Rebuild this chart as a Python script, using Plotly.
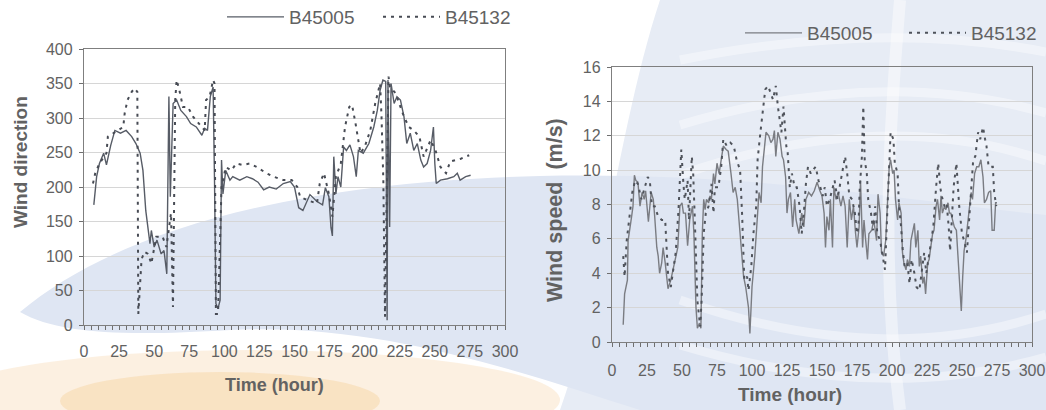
import plotly.graph_objects as go

W, H = 1046, 410

# ---------------- data: wind direction (left) ----------------
dir_b45005_t = [7, 9, 11, 14, 16, 19, 22, 26, 30, 34, 37, 40, 42, 44, 47, 48, 50, 52, 55, 57, 59,
                60.5, 61.5, 62.5, 63.5, 66, 69, 73, 76, 80, 84, 86, 88, 90, 92, 93, 94, 95.5, 97, 98,
                99, 101, 104, 106, 111, 116, 120, 124, 128, 132, 137, 142, 147, 150, 153, 156, 161,
                166, 170, 172, 174.5, 176, 177, 178, 179.5, 181, 183, 185, 187, 189.5, 192, 194,
                195.5, 199, 203, 206.5, 209, 211, 213, 215, 216, 216.6, 217.8, 218.8, 221, 223,
                225.5, 228, 230, 232.5, 235, 237.5, 240, 242, 244.5, 247, 249, 250, 251, 254, 259,
                263.5, 266, 268, 272, 275.5]
dir_b45005_v = [174, 215, 234, 249, 232, 260, 282, 278, 282, 273, 263, 249, 224, 166, 118, 137, 113,
                123, 103, 108, 74, 331, 186, 258, 321, 326, 311, 302, 292, 287, 275, 285, 282, 331,
                345, 210, 31, 24, 36, 239, 190, 224, 210, 215, 210, 215, 212, 207, 196, 200, 197,
                205, 208, 200, 170, 166, 189, 179, 174, 199, 186, 141, 129, 244, 190, 215, 200, 258,
                253, 261, 244, 215, 253, 249, 263, 287, 311, 340, 355, 353, 7, 355, 142, 350, 321,
                331, 326, 302, 263, 278, 253, 263, 239, 229, 234, 253, 287, 234, 205, 210, 212, 215,
                220, 210, 215, 217]

dir_b45132_t = [6.4, 8, 11, 16, 17, 20.7, 24, 28, 29, 31, 34, 36, 38, 38.7, 41, 43, 45.6, 48, 51.5,
                56, 58.7, 61, 62, 63.4, 64.6, 65, 66, 68, 70.5, 74, 77.7, 82, 86, 87, 89.5, 92, 93,
                94, 95.5, 98, 101, 105, 108.5, 113, 118, 123, 130, 135, 142, 148, 152, 154, 159, 166,
                168, 171, 174.5, 177, 179.5, 183, 186, 189, 191, 193.5, 197, 200, 204, 207.5, 211,
                212, 213.3, 214.5, 217, 218, 222, 225.5, 228, 231.5, 235, 239, 242, 247, 250.5, 254,
                258, 261, 265, 268.5, 272, 274.5]
dir_b45132_v = [205, 220, 234, 249, 273, 278, 282, 287, 307, 326, 338, 343, 338, 16, 95, 106, 103, 89,
                128, 128, 113, 147, 162, 26, 195, 326, 355, 340, 316, 316, 302, 292, 282, 326, 331,
                355, 350, 16, 16, 200, 229, 224, 234, 232, 234, 229, 220, 215, 210, 210, 200, 186,
                181, 176, 205, 220, 190, 157, 215, 234, 287, 316, 319, 292, 249, 258, 282, 321, 350,
                302, 210, 12, 360, 345, 336, 316, 302, 287, 282, 273, 244, 268, 253, 229, 220, 237,
                239, 241, 244, 246]

# ---------------- data: wind speed (right) ----------------
spd_b45005_t = [8, 9, 11, 11.5, 14, 15, 16, 17, 18.5, 20, 21.5, 23, 24, 26, 28, 29.5, 30.5, 32, 33,
                34, 35.5, 36.5, 38, 40, 42, 43.5, 45, 47, 48.5, 50, 51, 52.5, 54, 55.5, 57.5, 58.5,
                60, 61, 62.5, 63.5, 64.5, 65.5, 66.5, 67.5, 69, 70, 71, 72.5, 73.5, 75, 76.5, 78,
                79.5, 81.5, 83, 85, 86.5, 88, 89.5, 91.5, 94, 95.5, 97.5, 98.5, 100, 102, 103.5,
                105, 106.5, 107.5, 109, 110, 112, 113.5, 115, 116, 117, 118.5, 120, 121.5, 122.5,
                124, 125, 126, 127.5, 129, 130.5, 131.5, 133.5, 135.5, 137, 138.5, 140.5, 142.5,
                144.5, 146.5, 148.5, 150, 151.5, 152.5, 153.5, 155, 156, 157.5, 158.5, 160, 161.5,
                163.5, 165, 166.5, 168, 169.5, 171, 172.5, 174, 175, 176.5, 177.5, 179, 180, 181,
                182.5, 183.5, 185.5, 187, 189, 190, 191.5, 192.5, 194, 195.5, 197, 198, 199, 200.5,
                201.5, 202.5, 204, 205, 206.5, 207.5, 208.5, 210, 211, 212.5, 213.5, 214.5, 216,
                217, 218.5, 219.5, 220.5, 222, 223, 224, 225.5, 226.5, 228, 229, 230, 231.5, 232.5,
                234, 235, 236, 237.5, 238.5, 240, 241, 242, 243.5, 244.5, 246, 247, 248, 249.5,
                250.5, 251.5, 253, 254, 255.5, 256.5, 257.5, 259, 260.5, 262, 263.5, 265, 266, 267.5,
                269, 270.5, 271.5, 273, 274, 275]
spd_b45005_v = [1.0, 2.8, 3.6, 5.9, 7.3, 7.9, 9.7, 9.4, 9.3, 7.9, 8.7, 8.3, 8.8, 7.0, 8.7, 8.3, 7.3,
                5.5, 5.0, 4.0, 4.6, 5.5, 4.6, 3.1, 3.6, 4.2, 4.8, 5.5, 7.9, 8.1, 7.5, 7.5, 5.6, 7.1,
                7.9, 6.3, 2.0, 0.8, 1.1, 0.8, 6.3, 8.3, 7.7, 8.3, 8.1, 8.5, 8.3, 9.8, 9.2, 10.4, 9.8,
                10.6, 11.4, 11.2, 11.1, 9.8, 8.7, 9.0, 8.3, 6.3, 3.8, 3.2, 2.0, 0.5, 3.2, 5.0, 7.1,
                8.7, 8.1, 10.2, 11.4, 12.2, 12.0, 11.6, 11.8, 12.3, 10.8, 12.2, 11.8, 10.8, 10.6,
                9.6, 7.5, 8.3, 8.7, 6.7, 8.3, 7.1, 6.3, 7.5, 6.7, 8.3, 8.7, 8.5, 8.8, 9.3, 8.8, 8.5,
                7.5, 5.5, 7.3, 6.5, 8.3, 5.5, 9.0, 8.3, 8.7, 7.9, 8.5, 7.9, 5.5, 8.3, 7.1, 7.9, 6.3,
                5.5, 6.7, 9.4, 5.5, 7.1, 6.1, 4.8, 6.3, 6.5, 7.1, 5.9, 8.6, 7.5, 5.2, 5.0, 5.9, 9.0,
                10.2, 10.6, 9.8, 10.0, 8.3, 7.1, 8.1, 7.5, 5.2, 4.6, 4.2, 4.8, 4.4, 5.9, 6.3, 6.9,
                5.5, 6.5, 4.4, 5.0, 3.4, 3.8, 2.8, 4.6, 4.8, 5.9, 6.3, 6.5, 7.9, 8.3, 7.1, 8.5, 7.5,
                7.9, 7.7, 8.1, 7.5, 7.5, 7.1, 6.7, 6.5, 5.3, 3.6, 1.8, 3.8, 5.3, 6.1, 6.9, 8.3, 8.7,
                8.3, 9.8, 10.2, 10.2, 10.6, 9.6, 8.1, 8.3, 8.7, 8.8, 6.5, 6.5, 8.1, 8.1]

spd_b45132_t = [8, 9, 10.5, 12.5, 14.5, 16.5, 18.5, 21, 23.5, 25.5, 27, 28.5, 30.5, 33, 35.5, 38, 39,
                40, 42, 43.5, 45.5, 47.5, 48.5, 49.5, 51, 52, 54, 55, 57, 58, 59, 60, 61, 63, 64,
                65.5, 67, 69, 71, 72.5, 73.5, 76, 78, 79.5, 82, 84.5, 87, 89, 91.5, 93, 94.5, 96.5,
                97.5, 99.5, 101, 103, 104, 106, 107.5, 109.5, 111.5, 113, 115, 117, 118.5, 121,
                122.5, 124.5, 125.5, 127, 128.5, 130.5, 132, 134, 135.5, 137, 138.5, 140, 142, 143.5,
                145.5, 147.5, 149, 150.5, 152, 153.5, 155.5, 157.5, 159, 161, 162.5, 164.5, 166.5,
                168, 169.5, 171.5, 173.5, 175, 176, 177, 178.5, 179.5, 180.5, 182, 183, 185, 186.5,
                188, 189.5, 191.5, 193, 195, 197, 198, 199, 201, 202, 204, 205, 206.5, 207.5, 209,
                211, 212.5, 214, 216, 217.5, 219.5, 221, 223, 224.5, 226, 228, 229.5, 231.5, 233,
                234.5, 235.5, 237.5, 239, 240.5, 241.5, 243, 244, 246, 247, 248, 250, 251.5, 253.5,
                255, 256.5, 258, 259.5, 261.5, 263, 265, 266.5, 267.5, 269, 271, 272, 273, 274.5]
spd_b45132_v = [5.0, 3.8, 5.9, 7.5, 8.7, 9.4, 9.2, 8.3, 9.0, 9.6, 9.4, 7.9, 7.9, 7.3, 7.1, 7.1, 5.5,
                4.0, 3.2, 4.0, 5.2, 7.7, 9.8, 11.2, 9.2, 8.3, 9.4, 7.1, 10.8, 9.8, 7.5, 4.8, 2.4, 0.9,
                2.4, 6.3, 7.5, 7.9, 9.2, 7.5, 9.0, 9.0, 10.2, 11.8, 11.4, 11.6, 11.4, 10.6, 10.0, 7.3,
                3.6, 3.8, 3.0, 4.4, 6.3, 7.9, 10.6, 12.2, 13.3, 14.7, 14.9, 14.5, 14.1, 14.9, 13.7,
                12.2, 13.7, 11.4, 11.0, 9.0, 9.8, 9.0, 9.0, 7.9, 6.3, 7.5, 9.2, 10.2, 9.8, 10.0, 10.2,
                9.4, 9.0, 8.5, 9.0, 7.9, 8.3, 9.0, 9.4, 8.3, 9.0, 9.8, 10.8, 9.8, 8.5, 8.3, 7.5, 6.3,
                6.7, 9.0, 10.8, 13.7, 10.6, 9.8, 8.3, 7.5, 6.5, 7.9, 6.3, 5.9, 5.2, 4.2, 8.3, 10.6,
                12.2, 11.8, 10.4, 9.8, 7.9, 6.7, 5.5, 4.4, 4.6, 3.4, 4.8, 4.0, 3.2, 3.0, 4.0, 5.2,
                4.0, 4.8, 5.7, 6.7, 9.0, 10.4, 9.0, 8.5, 7.9, 8.1, 6.7, 5.3, 7.5, 9.0, 10.4, 9.0, 7.9,
                6.3, 5.9, 5.2, 7.1, 9.0, 10.6, 10.8, 12.2, 11.8, 12.5, 11.8, 11.4, 10.2, 10.2, 10.2,
                8.7, 7.9]

series_names = ["B45005", "B45132"]
x_ticks = [0, 25, 50, 75, 100, 125, 150, 175, 200, 225, 250, 275, 300]
dir_ticks = [0, 50, 100, 150, 200, 250, 300, 350, 400]
spd_ticks = [0, 2, 4, 6, 8, 10, 12, 14, 16]

FONT = "Liberation Sans, Arial, sans-serif"
GREY_TXT = "#626262"
SOLID_L = "#575c66"
DOT_L = "#474b54"
SOLID_R = "#7a7c82"
DOT_R = "#4f535b"
DOT_DASH = "3px,5px"

fig = go.Figure()
fig.add_trace(go.Scatter(x=dir_b45005_t, y=dir_b45005_v, name=series_names[0], mode="lines",
                         line=dict(color=SOLID_L, width=1.4), xaxis="x", yaxis="y", legend="legend"))
fig.add_trace(go.Scatter(x=dir_b45132_t, y=dir_b45132_v, name=series_names[1], mode="lines",
                         line=dict(color=DOT_L, width=2, dash=DOT_DASH), xaxis="x", yaxis="y",
                         legend="legend"))
fig.add_trace(go.Scatter(x=spd_b45005_t, y=spd_b45005_v, name=series_names[0], mode="lines",
                         line=dict(color=SOLID_R, width=1.4), xaxis="x2", yaxis="y2", legend="legend2"))
fig.add_trace(go.Scatter(x=spd_b45132_t, y=spd_b45132_v, name=series_names[1], mode="lines",
                         line=dict(color=DOT_R, width=2, dash=DOT_DASH), xaxis="x2", yaxis="y2",
                         legend="legend2"))


def px(x):
    return x / W


def py(y):
    return 1 - y / H


def path(cmds):
    out = []
    for c in cmds:
        if isinstance(c, str):
            out.append(c)
        else:
            out.append(f"{px(c[0]):.5f},{py(c[1]):.5f}")
    return " ".join(out)


shapes = []
# right-hand light-blue area (globe watermark)
shapes.append(dict(type="path", xref="paper", yref="paper", layer="below", line=dict(width=0),
                   fillcolor="#e7ecf5",
                   path=path(["M", (660, 0), "L", (1046, 0), "L", (1046, 410), "L", (560, 410),
                              "C", (600, 300), (620, 120), (660, 0), "Z"])))
# blue swoosh
shapes.append(dict(type="path", xref="paper", yref="paper", layer="below", line=dict(width=0),
                   fillcolor="#dfe6f3",
                   path=path(["M", (20, 312), "C", (120, 228), (300, 182), (540, 176),
                              "C", (760, 172), (900, 200), (1046, 215), "L", (1046, 410),
                              "L", (640, 410),
                              "C", (520, 372), (380, 322), (230, 330),
                              "C", (130, 336), (60, 335), (20, 312), "Z"])))
# faint globe lines
shapes.append(dict(type="path", xref="paper", yref="paper", layer="below",
                   line=dict(color="rgba(255,255,255,0.45)", width=12),
                   path=path(["M", (900, 0), "C", (890, 120), (880, 260), (900, 410)])))
for (y0, bend) in [(40, 20), (95, 30), (140, 35), (335, -35), (375, -30)]:
    shapes.append(dict(type="path", xref="paper", yref="paper", layer="below",
                       line=dict(color="rgba(255,255,255,0.4)", width=9),
                       path=path(["M", (680, y0 + bend), "Q", (880, y0 - bend), (1046, y0 + bend * 0.6)])))
# orange glow bottom-left
shapes.append(dict(type="circle", xref="paper", yref="paper", layer="below", line=dict(width=0),
                   fillcolor="rgba(250,228,200,0.55)",
                   x0=px(-60), x1=px(560), y0=py(450), y1=py(350)))
shapes.append(dict(type="circle", xref="paper", yref="paper", layer="below", line=dict(width=0),
                   fillcolor="rgba(247,210,160,0.45)",
                   x0=px(60), x1=px(380), y0=py(430), y1=py(372)))

axis_common = dict(showline=True, linecolor="#7f7f7f", linewidth=1.3, mirror=True,
                   ticks="outside", ticklen=4, tickcolor="#6f6f6f", automargin=False,
                   tickfont=dict(family=FONT, size=16, color=GREY_TXT), zeroline=False)
x_common = dict(range=[0, 300], tickvals=x_ticks, tickangle=0, showgrid=False,
                minor=dict(dtick=5, ticks="outside", ticklen=4, tickcolor="#6f6f6f"))

fig.update_layout(
    width=W, height=H, margin=dict(l=0, r=0, t=0, b=0, autoexpand=False),
    paper_bgcolor="white", plot_bgcolor="rgba(255,255,255,0.2)",
    font=dict(family=FONT, color=GREY_TXT),
    showlegend=True,
    shapes=shapes,
    xaxis=dict(domain=[px(84), px(505)], anchor="y", ticklabelstandoff=8, **x_common, **axis_common),
    yaxis=dict(domain=[py(325), py(49)], anchor="x", range=[0, 400], tickvals=dir_ticks,
               ticklabelstandoff=3,
               showgrid=True, gridcolor="#d6d6d6", gridwidth=1, **axis_common),
    xaxis2=dict(domain=[px(612), px(1032)], anchor="y2", ticklabelstandoff=10, **x_common,
                **axis_common),
    yaxis2=dict(domain=[py(342), py(67)], anchor="x2", range=[0, 16], tickvals=spd_ticks,
                ticklabelstandoff=3,
                showgrid=True, gridcolor="#d6d6d6", gridwidth=1, **axis_common),
    legend=dict(orientation="h", x=px(222), y=py(17), xanchor="left", yanchor="middle",
                bgcolor="rgba(0,0,0,0)", font=dict(family=FONT, size=19, color=GREY_TXT),
                itemwidth=57, entrywidth=84, entrywidthmode="pixels"),
    legend2=dict(orientation="h", x=px(740), y=py(33), xanchor="left", yanchor="middle",
                 bgcolor="rgba(0,0,0,0)", font=dict(family=FONT, size=19, color=GREY_TXT),
                 itemwidth=57, entrywidth=92, entrywidthmode="pixels"),
    annotations=[
        dict(text="<b>Time (hour)</b>", xref="paper", yref="paper", x=px(274), y=py(385),
             xanchor="center", yanchor="middle",
             showarrow=False, font=dict(family=FONT, size=18, color=GREY_TXT)),
        dict(text="<b>Wind direction</b>", xref="paper", yref="paper", x=px(20), y=py(162),
             xanchor="center", yanchor="middle",
             showarrow=False, textangle=-90, font=dict(family=FONT, size=19, color=GREY_TXT)),
        dict(text="<b>Time (hour)</b>", xref="paper", yref="paper", x=px(790), y=py(394),
             xanchor="center", yanchor="middle",
             showarrow=False, font=dict(family=FONT, size=19, color=GREY_TXT)),
        dict(text="<b>Wind speed  (m/s)</b>", xref="paper", yref="paper", x=px(555), y=py(210),
             xanchor="center", yanchor="middle",
             showarrow=False, textangle=-90, font=dict(family=FONT, size=21.5, color=GREY_TXT)),
    ],
)

fig.write_html("out.html")
